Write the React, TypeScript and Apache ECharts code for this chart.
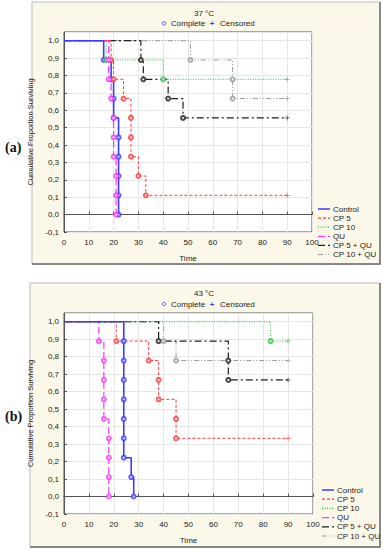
import React, { useEffect, useRef } from "react";
import * as echarts from "echarts";

// ---------- DATA ----------
const seriesNames = ["Control", "CP 5", "CP 10", "QU", "CP 5 + QU", "CP 10 + QU"];

// Panel (a) 37 °C : event times and survival proportions at each complete (death) event
const a_control_t = [16, 19, 20, 20, 22, 22, 22, 22, 22];
const a_control_s = [0.889, 0.778, 0.667, 0.556, 0.444, 0.333, 0.222, 0.111, 0];
const a_cp5_t = [19, 20, 24, 27, 27, 27, 30, 33];
const a_cp5_s = [0.889, 0.778, 0.667, 0.556, 0.444, 0.333, 0.222, 0.111];
const a_cp10_t = [17, 40];
const a_cp10_s = [0.889, 0.778];
const a_qu_t = [18, 18, 19, 20, 20, 20, 21, 21, 21];
const a_qu_s = [0.889, 0.778, 0.667, 0.556, 0.444, 0.333, 0.222, 0.111, 0];
const a_cp5qu_t = [31, 32, 42, 48];
const a_cp5qu_s = [0.889, 0.778, 0.667, 0.556];
const a_cp10qu_t = [51, 68, 68];
const a_cp10qu_s = [0.889, 0.778, 0.667];
// censored time per series (null = none)
const a_censor = [null, 90, 90, null, 90, 90];

// Panel (b) 43 °C
const b_control_t = [24, 24, 24, 24, 24, 24, 24, 27, 28];
const b_control_s = [0.889, 0.778, 0.667, 0.556, 0.444, 0.333, 0.222, 0.111, 0];
const b_cp5_t = [21, 34, 38, 38, 45, 45];
const b_cp5_s = [0.889, 0.778, 0.667, 0.556, 0.444, 0.333];
const b_cp10_t = [83];
const b_cp10_s = [0.889];
const b_qu_t = [14, 16, 16, 16, 16, 18, 18, 18, 18];
const b_qu_s = [0.889, 0.778, 0.667, 0.556, 0.444, 0.333, 0.222, 0.111, 0];
const b_cp5qu_t = [38, 66, 66];
const b_cp5qu_s = [0.889, 0.778, 0.667];
const b_cp10qu_t = [40, 45];
const b_cp10qu_s = [0.889, 0.778];
const b_censor = [null, 90, 90, null, 90, 90];

// ---------- STYLE ----------
const colors = ["#3b3bff", "#ff3a3a", "#2fbf45", "#ff33ff", "#1e1e1e", "#9a9a9a"];
const dashes: any[] = ["solid", [3, 2], [1, 1.5], [7, 3], [7, 3, 2, 3], [5, 2, 1, 2, 1, 2]];
const widths = [1.6, 1, 1, 1.2, 1.2, 1];
const FONT = "Liberation Sans";
const PLUS = "path://M4.3 0H5.7V4.3H10V5.7H5.7V10H4.3V5.7H0V4.3H4.3Z";

type Panel = {
  t: number[][];
  s: number[][];
  censor: (number | null)[];
  title: string;
  label: string;
  box: { x: number; y: number; w: number; h: number };
  grid: { left: number; top: number; width: number; height: number };
  titleY: number;
  keyY: number;
  legX: number;
  legY: number;
  legStep: number;
  labelY: number;
};

const panels: Panel[] = [
  {
    t: [a_control_t, a_cp5_t, a_cp10_t, a_qu_t, a_cp5qu_t, a_cp10qu_t],
    s: [a_control_s, a_cp5_s, a_cp10_s, a_qu_s, a_cp5qu_s, a_cp10qu_s],
    censor: a_censor,
    title: "37 °C",
    label: "(a)",
    box: { x: 32, y: 2, w: 348, h: 262 },
    grid: { left: 64, top: 32, width: 248, height: 200 },
    titleY: 13,
    keyY: 23.5,
    legX: 318,
    legY: 209,
    legStep: 9.1,
    labelY: 147,
  },
  {
    t: [b_control_t, b_cp5_t, b_cp10_t, b_qu_t, b_cp5qu_t, b_cp10qu_t],
    s: [b_control_s, b_cp5_s, b_cp10_s, b_qu_s, b_cp5qu_s, b_cp10qu_s],
    censor: b_censor,
    title: "43 °C",
    label: "(b)",
    box: { x: 30, y: 283, w: 350, h: 264 },
    grid: { left: 64, top: 313, width: 249, height: 201 },
    titleY: 293,
    keyY: 304,
    legX: 322,
    legY: 490,
    legStep: 9.2,
    labelY: 416,
  },
];

function yFmt(v: number) {
  if (v > 1.001) return "";
  if (Math.abs(v) < 1e-6) return "0,0";
  return v.toFixed(1).replace(".", ",");
}

function buildOption() {
  const grids: any[] = [];
  const xAxes: any[] = [];
  const yAxes: any[] = [];
  const series: any[] = [];
  const graphics: any[] = [];

  panels.forEach((p, pi) => {
    graphics.push({
      type: "rect",
      z: -10,
      shape: { x: p.box.x, y: p.box.y, width: p.box.w, height: p.box.h },
      style: { fill: "#fcf8e9", stroke: "#b9b9b9", lineWidth: 1 },
    });
    graphics.push({
      type: "polyline",
      z: -9,
      shape: {
        points: [
          [p.box.x + p.box.w, p.box.y],
          [p.box.x + p.box.w, p.box.y + p.box.h],
          [p.box.x, p.box.y + p.box.h],
        ],
      },
      style: { stroke: "#6e6e6e", lineWidth: 1.5, fill: null },
    });
    graphics.push({
      type: "text",
      x: 204,
      y: p.titleY,
      style: { text: p.title, font: `8px "${FONT}"`, fill: "#222", align: "center", verticalAlign: "middle" },
    });
    graphics.push({
      type: "circle",
      shape: { cx: 164, cy: p.keyY, r: 1.8 },
      style: { fill: "none", stroke: "#3b3bff", lineWidth: 0.8 },
    });
    graphics.push({
      type: "text",
      x: 171,
      y: p.keyY,
      style: { text: "Complete", font: `8px "${FONT}"`, fill: "#222", verticalAlign: "middle" },
    });
    graphics.push({
      type: "text",
      x: 212,
      y: p.keyY,
      style: { text: "+", font: `bold 8px "${FONT}"`, fill: "#3b3bff", align: "center", verticalAlign: "middle" },
    });
    graphics.push({
      type: "text",
      x: 220,
      y: p.keyY,
      style: { text: "Censored", font: `8px "${FONT}"`, fill: "#222", verticalAlign: "middle" },
    });
    graphics.push({
      type: "text",
      x: 5,
      y: p.labelY,
      style: { text: p.label, font: `bold 14px "Liberation Serif"`, fill: "#111", verticalAlign: "middle" },
    });
    seriesNames.forEach((nm, i) => {
      const y = p.legY + i * p.legStep;
      graphics.push({
        type: "line",
        shape: { x1: p.legX, y1: y, x2: p.legX + 12, y2: y },
        style: {
          stroke: colors[i],
          lineWidth: i === 0 ? 1.5 : 1.2,
          lineDash: dashes[i] === "solid" ? null : dashes[i],
        },
      });
      graphics.push({
        type: "text",
        x: p.legX + 15,
        y,
        style: { text: nm, font: `8px "${FONT}"`, fill: "#222", verticalAlign: "middle" },
      });
    });

    grids.push({
      left: p.grid.left,
      top: p.grid.top,
      width: p.grid.width,
      height: p.grid.height,
      show: true,
      backgroundColor: "#ffffff",
      borderColor: "#555555",
      borderWidth: 1,
    });
    xAxes.push({
      type: "value",
      gridIndex: pi,
      min: 0,
      max: 100,
      interval: 10,
      name: "Time",
      nameLocation: "middle",
      nameGap: 22,
      nameTextStyle: { fontFamily: FONT, fontSize: 8, color: "#222" },
      axisLine: { show: true, lineStyle: { color: "#555" } },
      axisTick: { show: true, inside: true, length: 3, lineStyle: { color: "#555" } },
      axisLabel: { fontFamily: FONT, fontSize: 8, color: "#222", margin: 6 },
      splitLine: { show: true, lineStyle: { color: "#e6e6e6" } },
    });
    yAxes.push({
      type: "value",
      gridIndex: pi,
      min: -0.1,
      max: 1.05,
      interval: 0.1,
      name: "Cumulative Proportion Surviving",
      nameLocation: "middle",
      nameGap: 24,
      nameTextStyle: { fontFamily: FONT, fontSize: 7.5, color: "#222" },
      axisLine: { show: true, lineStyle: { color: "#555" } },
      axisTick: { show: true, inside: true, length: 3, lineStyle: { color: "#555" } },
      axisLabel: { fontFamily: FONT, fontSize: 8, color: "#222", margin: 5, formatter: yFmt, showMaxLabel: false },
      splitLine: { show: true, lineStyle: { color: "#e6e6e6" } },
    });

    seriesNames.forEach((nm, i) => {
      const t = p.t[i];
      const s = p.s[i];
      const pts: number[][] = [[0, 1]];
      t.forEach((tv, k) => pts.push([tv, s[k]]));
      const c = p.censor[i];
      if (c !== null) pts.push([c, s[s.length - 1]]);
      series.push({
        name: nm,
        type: "line",
        xAxisIndex: pi,
        yAxisIndex: pi,
        step: "end",
        showSymbol: false,
        symbol: "none",
        data: pts,
        lineStyle: { color: colors[i], width: widths[i], type: dashes[i] },
        z: 2 + (5 - i),
      });
      series.push({
        name: nm + " complete",
        type: "scatter",
        xAxisIndex: pi,
        yAxisIndex: pi,
        symbol: "emptyCircle",
        symbolSize: 4,
        data: t.map((tv, k) => [tv, s[k]]),
        itemStyle: { color: colors[i], borderColor: colors[i], borderWidth: 0.8 },
        z: 10,
      });
      if (c !== null) {
        series.push({
          name: nm + " censored",
          type: "scatter",
          xAxisIndex: pi,
          yAxisIndex: pi,
          symbol: PLUS,
          symbolSize: 5,
          data: [[c, s[s.length - 1]]],
          itemStyle: { color: colors[i] },
          z: 10,
        });
      }
    });
  });

  return {
    animation: false,
    backgroundColor: "#ffffff",
    textStyle: { fontFamily: FONT },
    grid: grids,
    xAxis: xAxes,
    yAxis: yAxes,
    series,
    graphic: graphics,
  };
}

export default function App() {
  const ref = useRef<HTMLDivElement>(null);
  useEffect(() => {
    if (!ref.current) return;
    const chart = echarts.init(ref.current, undefined, { renderer: "svg" });
    chart.setOption(buildOption() as any);
    return () => chart.dispose();
  }, []);
  return (
    <div
      ref={ref}
      style={{ position: "absolute", left: 0, top: 0, width: 383, height: 550, background: "#fff" }}
    />
  );
}
